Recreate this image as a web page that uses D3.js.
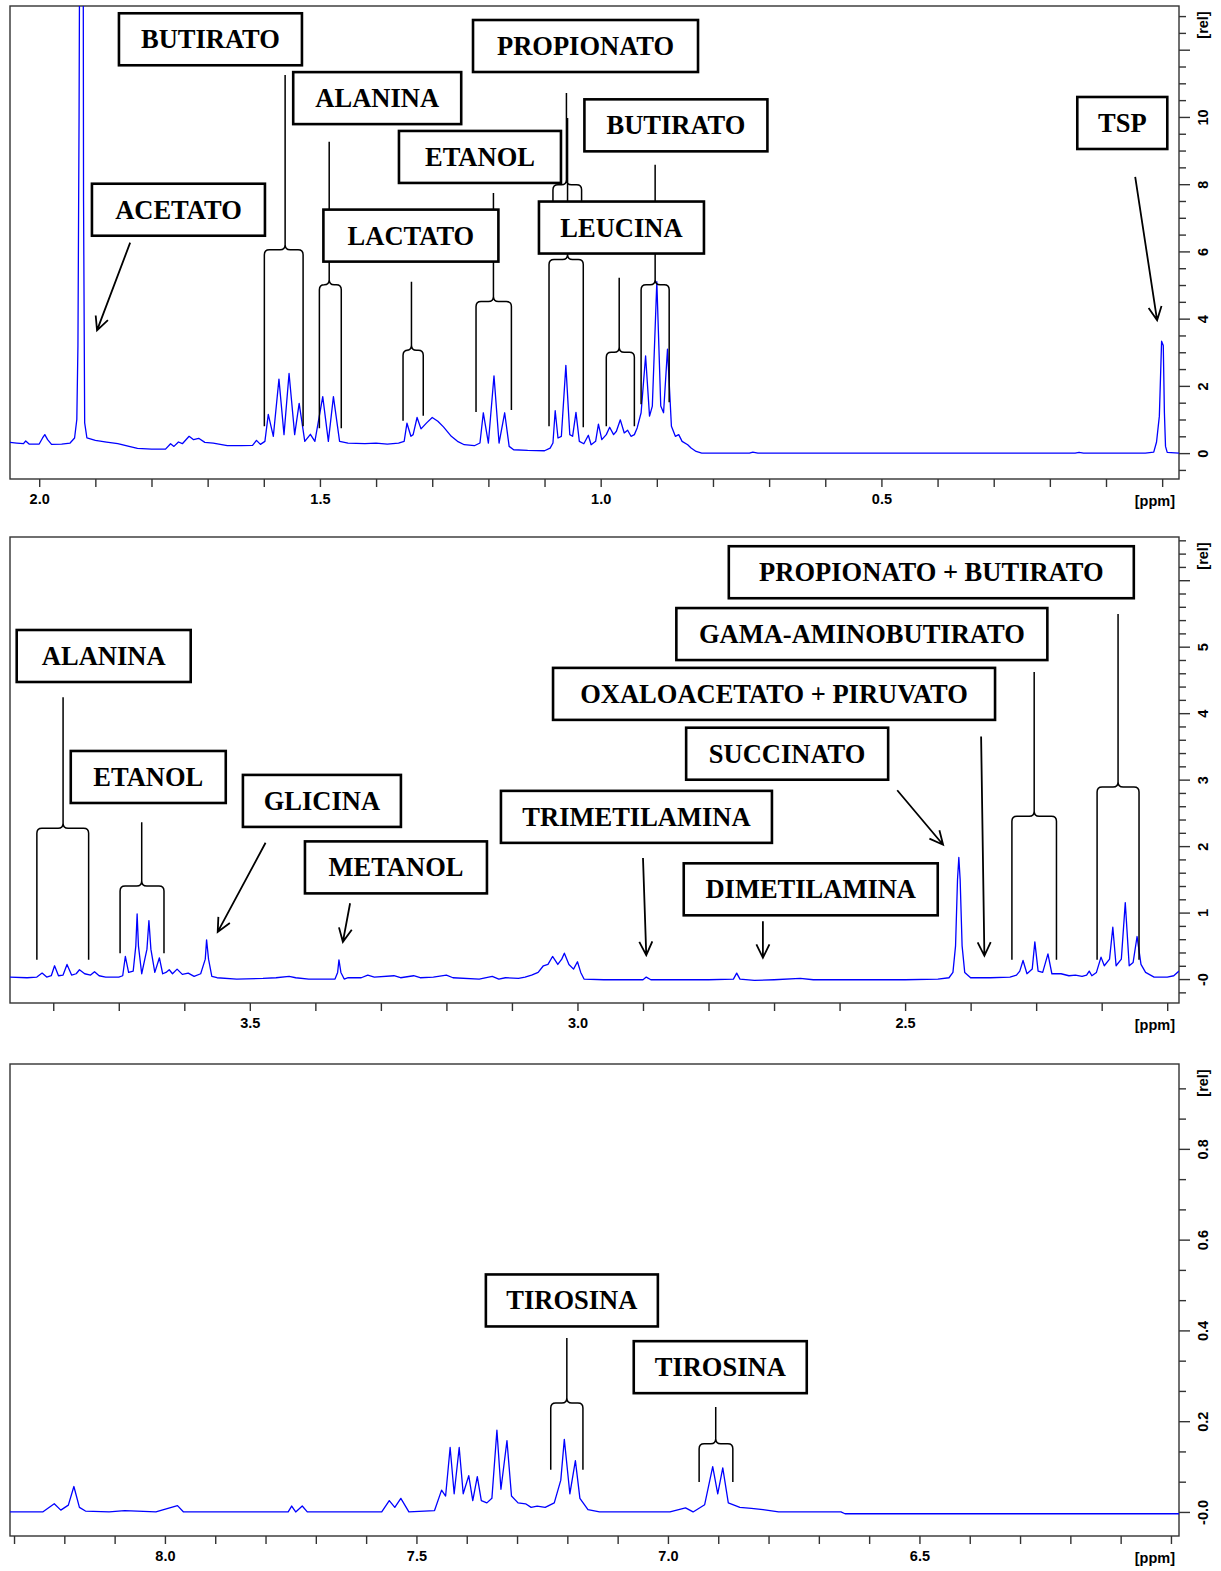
<!DOCTYPE html>
<html>
<head>
<meta charset="utf-8">
<script src="https://cdn.jsdelivr.net/npm/d3@7"></script>
<style>
  body { margin: 0; background: #fff; }
  svg { display: block; }
  .box-label { font-family: "Liberation Serif", "Times New Roman", serif; font-weight: bold; font-size: 26.5px; }
  .axis text, .unit { font-family: "Liberation Sans", Arial, sans-serif; font-weight: bold; font-size: 14.5px; fill: #000; }
</style>
</head>
<body>
<svg id="chart" width="1221" height="1571"></svg>
<script>
(function (d3) {
  "use strict";

  /***** Données : [ppm, intensité relative] *****/
  var spectrumAliphatic = [
    [2.052, 0.32], [2.040, 0.30], [2.028, 0.28], [2.024, 0.36], [2.018, 0.27], [2.000, 0.27],
    [1.994, 0.45], [1.990, 0.55], [1.985, 0.40], [1.978, 0.26], [1.960, 0.27], [1.945, 0.30],
    [1.937, 0.45], [1.933, 1.0], [1.931, 3.2], [1.929, 10.0], [1.927, 20], [1.922, 20],
    [1.921, 7.5], [1.919, 0.9], [1.915, 0.45], [1.900, 0.38], [1.880, 0.33], [1.860, 0.28],
    [1.840, 0.20], [1.825, 0.14], [1.800, 0.12], [1.775, 0.12], [1.766, 0.28], [1.760, 0.20],
    [1.752, 0.33], [1.745, 0.28], [1.733, 0.50], [1.725, 0.40], [1.716, 0.44], [1.705, 0.32],
    [1.690, 0.30], [1.680, 0.27], [1.665, 0.22], [1.640, 0.22], [1.620, 0.23], [1.613, 0.38],
    [1.606, 0.26], [1.598, 0.35], [1.592, 1.15], [1.583, 0.50], [1.573, 2.20], [1.564, 0.55],
    [1.555, 2.37], [1.545, 0.55], [1.537, 1.48], [1.527, 0.35], [1.517, 0.56], [1.509, 0.35],
    [1.495, 1.68], [1.485, 0.35], [1.476, 1.68], [1.465, 0.35], [1.450, 0.30], [1.420, 0.28],
    [1.400, 0.30], [1.380, 0.27], [1.360, 0.30], [1.350, 0.35], [1.345, 0.89], [1.338, 0.50],
    [1.334, 0.55], [1.327, 1.06], [1.320, 0.72], [1.310, 0.90], [1.300, 1.06], [1.290, 0.95],
    [1.280, 0.78], [1.266, 0.50], [1.255, 0.35], [1.243, 0.25], [1.225, 0.22], [1.215, 0.30],
    [1.209, 1.20], [1.200, 0.30], [1.190, 2.30], [1.181, 0.30], [1.171, 1.20], [1.163, 0.20],
    [1.155, 0.10], [1.130, 0.08], [1.100, 0.07], [1.090, 0.15], [1.085, 0.30], [1.081, 1.26],
    [1.076, 0.45], [1.070, 0.50], [1.062, 2.61], [1.055, 0.55], [1.050, 0.50], [1.044, 1.21],
    [1.038, 0.35], [1.030, 0.28], [1.022, 0.53], [1.017, 0.25], [1.009, 0.35], [1.004, 0.86],
    [0.998, 0.40], [0.990, 0.55], [0.984, 0.77], [0.977, 0.55], [0.972, 0.65], [0.965, 0.99],
    [0.958, 0.60], [0.952, 0.68], [0.946, 0.50], [0.940, 0.55], [0.935, 0.75], [0.928, 1.20],
    [0.920, 2.89], [0.913, 1.10], [0.908, 1.40], [0.900, 5.10], [0.893, 1.40], [0.888, 1.20],
    [0.881, 3.09], [0.874, 0.80], [0.867, 0.50], [0.861, 0.55], [0.855, 0.35], [0.845, 0.25],
    [0.839, 0.15], [0.830, 0.05], [0.820, 0.0], [0.735, 0.0], [0.729, 0.03], [0.720, 0.0],
    [0.155, 0.0], [0.148, 0.02], [0.140, 0.0], [0.030, 0.0], [0.015, 0.03], [0.010, 0.33],
    [0.005, 1.10], [0.001, 3.33], [-0.002, 3.20], [-0.004, 1.20], [-0.006, 0.20], [-0.009, 0.02],
    [-0.030, 0.0]
  ];

  var spectrumMid = [
    [3.866, 0.03], [3.840, 0.02], [3.825, 0.03], [3.817, 0.09], [3.810, 0.03], [3.803, 0.05],
    [3.798, 0.20], [3.792, 0.05], [3.785, 0.06], [3.779, 0.22], [3.772, 0.06], [3.765, 0.08],
    [3.760, 0.14], [3.752, 0.08], [3.743, 0.06], [3.737, 0.11], [3.730, 0.05], [3.720, 0.03],
    [3.700, 0.03], [3.694, 0.05], [3.690, 0.34], [3.685, 0.10], [3.678, 0.12], [3.674, 0.50],
    [3.672, 0.98], [3.670, 0.50], [3.665, 0.08], [3.657, 0.45], [3.654, 0.88], [3.651, 0.45],
    [3.645, 0.10], [3.638, 0.32], [3.633, 0.08], [3.628, 0.10], [3.623, 0.14], [3.618, 0.08],
    [3.611, 0.15], [3.603, 0.07], [3.594, 0.09], [3.585, 0.04], [3.575, 0.08], [3.568, 0.30],
    [3.566, 0.59], [3.563, 0.30], [3.558, 0.04], [3.550, 0.02], [3.520, 0.0], [3.480, 0.01],
    [3.460, 0.02], [3.440, 0.04], [3.430, 0.02], [3.410, 0.0], [3.370, 0.0], [3.366, 0.10],
    [3.364, 0.29], [3.361, 0.10], [3.356, 0.0], [3.350, 0.02], [3.330, 0.02], [3.320, 0.06],
    [3.310, 0.03], [3.280, 0.05], [3.270, 0.02], [3.250, 0.05], [3.240, 0.02], [3.220, 0.03],
    [3.200, 0.06], [3.190, 0.02], [3.150, 0.0], [3.130, 0.04], [3.120, 0.0], [3.110, 0.02],
    [3.090, 0.01], [3.080, 0.03], [3.070, 0.06], [3.060, 0.10], [3.052, 0.20], [3.045, 0.22],
    [3.038, 0.34], [3.030, 0.22], [3.024, 0.30], [3.020, 0.39], [3.013, 0.22], [3.006, 0.15],
    [3.000, 0.26], [2.995, 0.10], [2.990, 0.0], [2.960, -0.01], [2.900, -0.01], [2.895, 0.03],
    [2.888, -0.01], [2.850, -0.01], [2.800, -0.01], [2.762, 0.0], [2.757, 0.09], [2.752, 0.0],
    [2.730, -0.02], [2.700, -0.01], [2.660, 0.01], [2.640, -0.01], [2.580, -0.01], [2.500, -0.01],
    [2.450, 0.0], [2.433, 0.02], [2.427, 0.10], [2.423, 0.50], [2.420, 1.50], [2.418, 1.83],
    [2.416, 1.50], [2.413, 0.50], [2.409, 0.10], [2.400, 0.02], [2.370, 0.02], [2.340, 0.03],
    [2.330, 0.06], [2.325, 0.12], [2.320, 0.28], [2.314, 0.08], [2.306, 0.15], [2.302, 0.56],
    [2.297, 0.12], [2.290, 0.10], [2.282, 0.38], [2.276, 0.08], [2.262, 0.08], [2.250, 0.05],
    [2.240, 0.06], [2.230, 0.04], [2.223, 0.06], [2.219, 0.12], [2.215, 0.05], [2.208, 0.10],
    [2.201, 0.33], [2.196, 0.20], [2.188, 0.30], [2.183, 0.78], [2.178, 0.20], [2.170, 0.30],
    [2.164, 1.15], [2.158, 0.20], [2.152, 0.25], [2.146, 0.64], [2.140, 0.22], [2.133, 0.10],
    [2.120, 0.03], [2.100, 0.03], [2.090, 0.05], [2.082, 0.12]
  ];

  var spectrumAromatic = [
    [8.309, 0.0], [8.243, 0.0], [8.220, 0.018], [8.207, 0.004], [8.192, 0.015], [8.181, 0.056],
    [8.170, 0.010], [8.158, 0.002], [8.111, 0.0], [8.080, 0.003], [8.018, 0.0], [7.975, 0.014],
    [7.963, 0.0], [7.755, 0.0], [7.748, 0.013], [7.740, 0.0], [7.727, 0.013], [7.717, 0.0],
    [7.569, 0.0], [7.554, 0.025], [7.543, 0.010], [7.531, 0.030], [7.515, 0.0], [7.464, 0.003],
    [7.450, 0.048], [7.442, 0.035], [7.433, 0.142], [7.425, 0.040], [7.415, 0.142], [7.407, 0.040],
    [7.396, 0.080], [7.388, 0.025], [7.379, 0.078], [7.371, 0.025], [7.360, 0.020], [7.350, 0.030],
    [7.340, 0.180], [7.332, 0.050], [7.320, 0.157], [7.311, 0.035], [7.298, 0.020], [7.283, 0.018],
    [7.272, 0.010], [7.260, 0.013], [7.244, 0.010], [7.226, 0.020], [7.213, 0.070], [7.206, 0.160],
    [7.195, 0.040], [7.184, 0.113], [7.175, 0.030], [7.159, 0.005], [7.136, 0.0], [6.996, 0.0],
    [6.965, 0.009], [6.950, 0.0], [6.927, 0.016], [6.911, 0.100], [6.901, 0.040], [6.891, 0.097],
    [6.880, 0.020], [6.857, 0.010], [6.834, 0.008], [6.811, 0.005], [6.780, 0.0], [6.656, 0.0],
    [6.648, -0.004], [5.984, -0.004]
  ];

  /***** Annotations (coordonnées en ppm / intensité) *****/
  var labelsAliphatic = [
    { text: "BUTIRATO", ppm: 1.695, rel: 12.31, w: 183 },
    { text: "ALANINA", ppm: 1.398, rel: 10.56, w: 168 },
    { text: "PROPIONATO", ppm: 1.027, rel: 12.11, w: 225 },
    { text: "ETANOL", ppm: 1.215, rel: 8.81, w: 162 },
    { text: "BUTIRATO", ppm: 0.866, rel: 9.75, w: 183 },
    { text: "ACETATO", ppm: 1.752, rel: 7.24, w: 173 },
    { text: "LACTATO", ppm: 1.338, rel: 6.47, w: 175 },
    { text: "LEUCINA", ppm: 0.963, rel: 6.71, w: 165 },
    { text: "TSP", ppm: 0.071, rel: 9.82, w: 90 }
  ];
  var bracesAliphatic = [
    { cx: 1.562, l: 1.599, r: 1.530, top: 11.25, mid: 6.05, bl: 0.80, br: 0.80 },
    { cx: 1.4835, l: 1.501, r: 1.462, top: 9.26, mid: 5.01, bl: 0.74, br: 0.74 },
    { cx: 1.337, l: 1.352, r: 1.316, top: 5.10, mid: 3.06, bl: 0.96, br: 1.11 },
    { cx: 1.191, l: 1.222, r: 1.159, top: 7.74, mid: 4.51, bl: 1.22, br: 1.28 },
    { cx: 1.061, l: 1.085, r: 1.034, top: 10.71, mid: 7.98, bl: 7.39, br: 7.39 },
    { cx: 1.059, l: 1.092, r: 1.031, top: 9.97, mid: 5.76, bl: 0.80, br: 0.77 },
    { cx: 0.967, l: 0.990, r: 0.940, top: 5.22, mid: 3.00, bl: 0.80, br: 0.80 },
    { cx: 0.903, l: 0.928, r: 0.878, top: 8.58, mid: 5.01, bl: 1.45, br: 1.51 }
  ];
  var arrowsAliphatic = [
    { from: [1.838, 6.26], to: [1.897, 3.65] },
    { from: [0.048, 8.22], to: [0.009, 3.95] }
  ];

  var labelsMid = [
    { text: "ALANINA", ppm: 3.723, rel: 4.86, w: 174 },
    { text: "ETANOL", ppm: 3.655, rel: 3.04, w: 155 },
    { text: "GLICINA", ppm: 3.390, rel: 2.68, w: 158 },
    { text: "METANOL", ppm: 3.277, rel: 1.68, w: 182 },
    { text: "TRIMETILAMINA", ppm: 2.910, rel: 2.44, w: 271 },
    { text: "DIMETILAMINA", ppm: 2.644, rel: 1.35, w: 254 },
    { text: "SUCCINATO", ppm: 2.680, rel: 3.39, w: 202 },
    { text: "OXALOACETATO + PIRUVATO", ppm: 2.700, rel: 4.29, w: 442 },
    { text: "GAMA-AMINOBUTIRATO", ppm: 2.566, rel: 5.19, w: 371 },
    { text: "PROPIONATO + BUTIRATO", ppm: 2.460, rel: 6.12, w: 405 }
  ];
  var bracesMid = [
    { cx: 3.785, l: 3.825, r: 3.746, top: 4.24, mid: 2.27, bl: 0.29, br: 0.29 },
    { cx: 3.665, l: 3.698, r: 3.631, top: 2.36, mid: 1.40, bl: 0.39, br: 0.39 },
    { cx: 2.303, l: 2.337, r: 2.269, top: 4.62, mid: 2.45, bl: 0.29, br: 0.29 },
    { cx: 2.175, l: 2.207, r: 2.143, top: 5.49, mid: 2.89, bl: 0.29, br: 0.29 }
  ];
  var arrowsMid = [
    { from: [3.476, 2.05], to: [3.549, 0.71] },
    { from: [3.347, 1.14], to: [3.358, 0.56] },
    { from: [2.900, 1.82], to: [2.895, 0.36] },
    { from: [2.717, 0.87], to: [2.717, 0.32] },
    { from: [2.512, 2.84], to: [2.442, 2.02] },
    { from: [2.384, 3.65], to: [2.379, 0.35] }
  ];

  var labelsAromatic = [
    { text: "TIROSINA", ppm: 7.191, rel: 0.466, w: 172 },
    { text: "TIROSINA", ppm: 6.896, rel: 0.319, w: 173 }
  ];
  var bracesAromatic = [
    { cx: 7.201, l: 7.233, r: 7.169, top: 0.383, mid: 0.240, bl: 0.093, br: 0.093 },
    { cx: 6.905, l: 6.938, r: 6.871, top: 0.231, mid: 0.150, bl: 0.066, br: 0.066 }
  ];
  var arrowsAromatic = [];

  /***** Configuration des panneaux *****/
  var left = 10, right = 1179;
  var panels = [
    {
      spectrum: spectrumAliphatic, labels: labelsAliphatic, braces: bracesAliphatic, arrows: arrowsAliphatic,
      xDomain: [2.052, -0.030], yDomain: [-0.77, 13.3], top: 6, bottom: 479,
      xTicks: [0, 20], yMajor: 2, yMinorPerMajor: 4, yLabelMax: 10,
      yFormat: function (v) { return String(v); }
    },
    {
      spectrum: spectrumMid, labels: labelsMid, braces: bracesMid, arrows: arrowsMid,
      xDomain: [3.866, 2.082], yDomain: [-0.36, 6.65], top: 537, bottom: 1003,
      xTicks: [21, 38], yMajor: 1, yMinorPerMajor: 5, yLabelMax: 5,
      yFormat: function (v) { return v === 0 ? "-0" : String(v); }
    },
    {
      spectrum: spectrumAromatic, labels: labelsAromatic, braces: bracesAromatic, arrows: arrowsAromatic,
      xDomain: [8.308, 5.984], yDomain: [-0.053, 0.987], top: 1064, bottom: 1536,
      xTicks: [60, 83], yMajor: 0.2, yMinorPerMajor: 3, yLabelMax: 0.8,
      yFormat: function (v) { return v === 0 ? "-0.0" : v.toFixed(1); }
    }
  ];

  var svg = d3.select("#chart");

  function bracePath(b, x, y) {
    var cx = x(b.cx), l = x(b.l), r = x(b.r);
    var top = y(b.top), by = y(b.mid), bl = y(b.bl), br = y(b.br);
    var c = 5;
    return "M" + l + "," + bl + " L" + l + "," + (by + c) +
      " Q" + l + "," + by + " " + (l + c) + "," + by +
      " L" + (cx - c) + "," + by +
      " Q" + cx + "," + by + " " + cx + "," + (by - c) +
      " L" + cx + "," + top +
      " M" + cx + "," + (by - c) +
      " Q" + cx + "," + by + " " + (cx + c) + "," + by +
      " L" + (r - c) + "," + by +
      " Q" + r + "," + by + " " + r + "," + (by + c) +
      " L" + r + "," + br;
  }

  function arrowPath(a, x, y) {
    var x1 = x(a.from[0]), y1 = y(a.from[1]), x2 = x(a.to[0]), y2 = y(a.to[1]);
    var ang = Math.atan2(y2 - y1, x2 - x1), len = 15, spread = 0.45;
    var hx1 = x2 - len * Math.cos(ang - spread), hy1 = y2 - len * Math.sin(ang - spread);
    var hx2 = x2 - len * Math.cos(ang + spread), hy2 = y2 - len * Math.sin(ang + spread);
    return "M" + x1 + "," + y1 + " L" + x2 + "," + y2 +
      " M" + hx1 + "," + hy1 + " L" + x2 + "," + y2 + " L" + hx2 + "," + hy2;
  }

  panels.forEach(function (p, pi) {
    var x = d3.scaleLinear().domain(p.xDomain).range([left, right]);
    var y = d3.scaleLinear().domain(p.yDomain).range([p.bottom, p.top]);
    var g = svg.append("g");

    // Cadre
    g.append("rect")
      .attr("x", left).attr("y", p.top)
      .attr("width", right - left).attr("height", p.bottom - p.top)
      .attr("fill", "none").attr("stroke", "#333").attr("stroke-width", 1.4);

    // Axe des ppm
    var xVals = d3.range(p.xTicks[0], p.xTicks[1] + 1).map(function (i) { return i / 10; });
    var lastTick = d3.min(xVals);
    var xAxis = d3.axisBottom(x).tickValues(xVals).tickSize(8).tickPadding(7)
      .tickFormat(function (v) {
        if (v === lastTick) return "";
        return Math.abs(v * 2 - Math.round(v * 2)) < 1e-6 ? v.toFixed(1) : "";
      });
    var xg = g.append("g").attr("class", "axis")
      .attr("transform", "translate(0," + p.bottom + ")")
      .call(xAxis);
    xg.select(".domain").remove();
    xg.selectAll("line").attr("stroke", "#333").attr("stroke-width", 1.4);
    g.append("text").attr("class", "unit")
      .attr("x", 1175).attr("y", p.bottom + 27)
      .attr("text-anchor", "end").text("[ppm]");

    // Axe des intensités (droite)
    var step = p.yMajor / p.yMinorPerMajor;
    var i0 = Math.ceil(p.yDomain[0] / step + 1e-6), i1 = Math.floor(p.yDomain[1] / step - 1e-6);
    var yVals = d3.range(i0, i1 + 1).map(function (i) { return +(i * step).toFixed(6); });
    var isMajor = function (v) { return Math.abs(v / p.yMajor - Math.round(v / p.yMajor)) < 1e-6; };
    var yAxis = d3.axisRight(y).tickValues(yVals).tickSize(0).tickFormat("");
    var yg = g.append("g").attr("class", "axis")
      .attr("transform", "translate(" + right + ",0)")
      .call(yAxis);
    yg.select(".domain").remove();
    yg.selectAll(".tick line")
      .attr("x2", function (v) { return isMajor(v) ? 11 : 7; })
      .attr("stroke", "#333").attr("stroke-width", 1.4);
    yg.selectAll(".tick").filter(function (v) { return isMajor(v) && v >= 0 && v <= p.yLabelMax + 1e-6; })
      .append("text")
      .attr("transform", "translate(24,0) rotate(-90)")
      .attr("text-anchor", "middle")
      .attr("dy", "0.36em")
      .text(function (v) { return p.yFormat(+v.toFixed(3)); });
    g.append("text").attr("class", "unit")
      .attr("transform", "translate(" + (right + 24) + "," + (p.top + 19) + ") rotate(-90)")
      .attr("text-anchor", "middle").attr("dy", "0.36em")
      .text("[rel]");

    // Spectre
    var clipId = "clip" + pi;
    svg.append("clipPath").attr("id", clipId).append("rect")
      .attr("x", left).attr("y", p.top).attr("width", right - left).attr("height", p.bottom - p.top);
    var data = p.spectrum.slice().sort(function (a, b) { return b[0] - a[0]; });
    var line = d3.line()
      .x(function (d) { return x(d[0]); })
      .y(function (d) { return y(d[1]); });
    g.append("path")
      .datum(data)
      .attr("clip-path", "url(#" + clipId + ")")
      .attr("d", line)
      .attr("fill", "none")
      .attr("stroke", "#0000ff")
      .attr("stroke-width", 1.3)
      .attr("stroke-linejoin", "round");

    // Accolades des multiplets
    g.selectAll(".brace").data(p.braces).enter().append("path")
      .attr("class", "brace")
      .attr("d", function (b) { return bracePath(b, x, y); })
      .attr("fill", "none").attr("stroke", "#000").attr("stroke-width", 1.5);

    // Flèches
    g.selectAll(".arrow").data(p.arrows).enter().append("path")
      .attr("class", "arrow")
      .attr("d", function (a) { return arrowPath(a, x, y); })
      .attr("fill", "none").attr("stroke", "#000").attr("stroke-width", 1.8);

    // Étiquettes encadrées
    var lab = g.selectAll(".label").data(p.labels).enter().append("g")
      .attr("class", "label")
      .attr("transform", function (d) { return "translate(" + x(d.ppm) + "," + y(d.rel) + ")"; });
    lab.append("rect")
      .attr("x", function (d) { return -d.w / 2; }).attr("y", -26)
      .attr("width", function (d) { return d.w; }).attr("height", 52)
      .attr("fill", "#fff").attr("stroke", "#000").attr("stroke-width", 2.6);
    lab.append("text")
      .attr("class", "box-label")
      .attr("text-anchor", "middle")
      .attr("y", 9)
      .text(function (d) { return d.text; });
  });

})(d3);
</script>
</body>
</html>
